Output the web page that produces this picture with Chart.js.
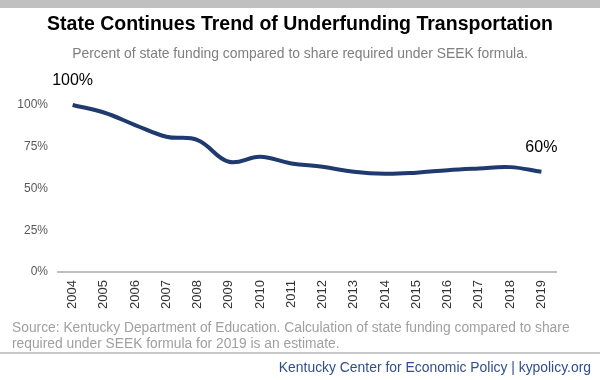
<!DOCTYPE html>
<html>
<head>
<meta charset="utf-8">
<script src="https://cdn.jsdelivr.net/npm/chart.js@4"></script>
<style>
html,body{margin:0;padding:0;background:#fff;}
#wrap{position:relative;width:600px;height:380px;}
canvas{display:block;}
</style>
</head>
<body>
<div id="wrap"><canvas id="c" width="600" height="380"></canvas></div>
<script>
const years = ['2004','2005','2006','2007','2008','2009','2010','2011','2012','2013','2014','2015','2016','2017','2018','2019'];
const fundingPct = [100, 95.5, 88, 81, 79, 66, 69, 65, 63, 60, 58.8, 59.5, 61, 62, 62.8, 60];
const yTicks = [0, 25, 50, 75, 100];
const titleText = 'State Continues Trend of Underfunding Transportation';
const subtitleText = 'Percent of state funding compared to share required under SEEK formula.';
const sourceLines = ['Source: Kentucky Department of Education. Calculation of state funding compared to share', 'required under SEEK formula for 2019 is an estimate.'];
const footerText = 'Kentucky Center for Economic Policy | kypolicy.org';
const annotated = [0, 15];

const FONT = '"Liberation Sans", Arial, sans-serif';

const decor = {
  id: 'decor',
  beforeDraw(chart) {
    const ctx = chart.ctx;
    ctx.save();
    ctx.fillStyle = '#ffffff';
    ctx.fillRect(0, 0, chart.width, chart.height);
    ctx.fillStyle = '#c0c0c0';
    ctx.fillRect(0, 0, 600, 8);
    ctx.fillStyle = '#c8c8c8';
    ctx.fillRect(0, 352, 600, 2);
    ctx.restore();
  },
  afterDraw(chart) {
    const ctx = chart.ctx;
    ctx.save();
    ctx.textBaseline = 'middle';
    ctx.textAlign = 'center';
    ctx.fillStyle = '#000000';
    ctx.font = 'bold 19.5px ' + FONT;
    ctx.fillText(titleText, 300, 25);
    ctx.fillStyle = '#7f7f7f';
    ctx.font = '13.9px ' + FONT;
    ctx.fillText(subtitleText, 300, 54);
    ctx.textAlign = 'left';
    ctx.fillStyle = '#a0a0a0';
    ctx.font = '13.8px ' + FONT;
    ctx.fillText(sourceLines[0], 12, 328);
    ctx.fillText(sourceLines[1], 12, 344);
    ctx.textAlign = 'right';
    ctx.fillStyle = '#2f4f8f';
    ctx.font = '13.9px ' + FONT;
    ctx.fillText(footerText, 591, 368);
    // annotations
    const xs = chart.scales.x, ys = chart.scales.y;
    ctx.textAlign = 'center';
    ctx.fillStyle = '#000000';
    ctx.font = '16px ' + FONT;
    annotated.forEach(i => {
      const x = xs.getPixelForValue(i);
      const y = ys.getPixelForValue(fundingPct[i]);
      ctx.fillText(Math.round(fundingPct[i]) + '%', x, y - 24);
    });
    ctx.restore();
  }
};

new Chart(document.getElementById('c'), {
  type: 'line',
  data: {
    labels: years,
    datasets: [{
      data: fundingPct,
      borderColor: '#1f3a6e',
      borderWidth: 4,
      pointRadius: 0,
      tension: 0.4,
      fill: false,
      clip: false
    }]
  },
  options: {
    responsive: false,
    animation: false,
    devicePixelRatio: 1,
    layout: { padding: { left: 0, right: 43, top: 105, bottom: 63 } },
    plugins: { legend: { display: false }, tooltip: { enabled: false } },
    scales: {
      x: {
        offset: true,
        grid: { display: false, drawTicks: false },
        border: { display: false },
        afterFit(s) { s.height = 45; },
        ticks: {
          minRotation: 90, maxRotation: 90, padding: 8,
          color: '#333333',
          font: { family: FONT, size: 13 }
        }
      },
      y: {
        min: 0, max: 100,
        afterFit(s) { s.width = 57; },
        afterBuildTicks(s) { s.ticks = yTicks.map(v => ({ value: v })); },
        grid: {
          drawTicks: false,
          color: (c) => c.tick && c.tick.value === 0 ? '#bfbfbf' : 'rgba(0,0,0,0)',
          lineWidth: 2
        },
        border: { display: false },
        ticks: {
          padding: 9,
          color: '#595959',
          font: { family: FONT, size: 12 },
          callback: (v) => v + '%'
        }
      }
    }
  },
  plugins: [decor]
});
</script>
</body>
</html>
